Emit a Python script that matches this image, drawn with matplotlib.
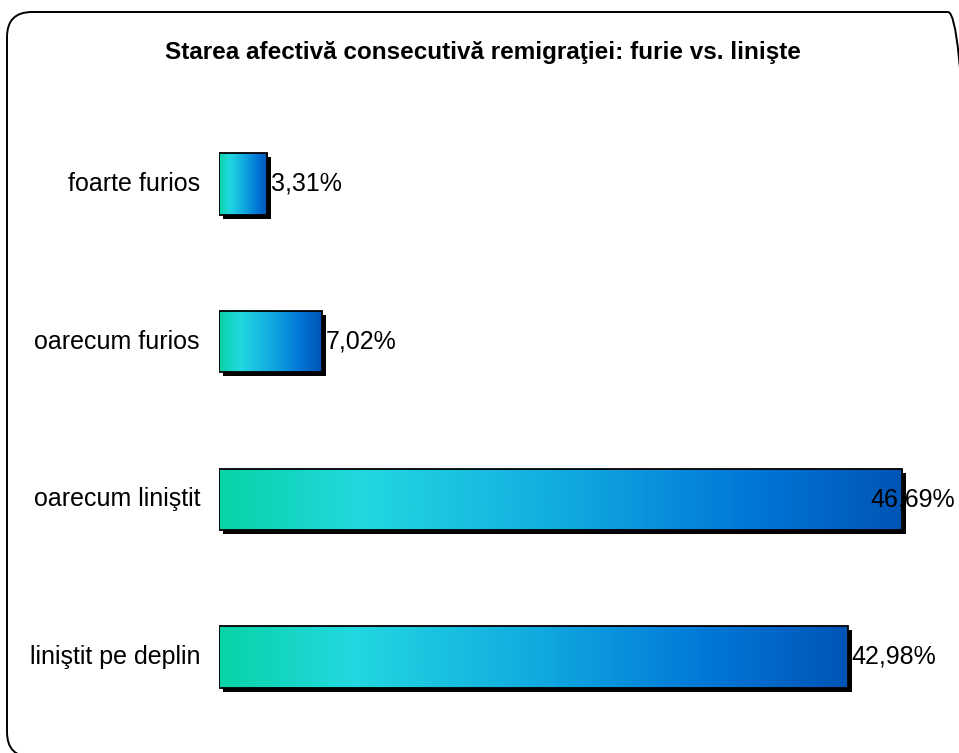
import numpy as np
import matplotlib
matplotlib.use("Agg")
import matplotlib.pyplot as plt
from matplotlib.colors import LinearSegmentedColormap
from matplotlib.patches import FancyBboxPatch
from matplotlib.transforms import ScaledTranslation

plt.rcParams['font.family'] = ['Liberation Sans', 'DejaVu Sans']

title = "Starea afectivă consecutivă remigraţiei: furie vs. linişte"
categories = ["foarte furios", "oarecum furios", "oarecum liniştit", "liniştit pe deplin"]
values = [3.31, 7.02, 46.69, 42.98]
value_labels = ["3,31%", "7,02%", "46,69%", "42,98%"]

W, H, DPI = 959, 753, 100
fig = plt.figure(figsize=(W / DPI, H / DPI), dpi=DPI)

# rounded frame in inches (extends slightly past right/bottom edge like the reference)
frame = FancyBboxPatch((7 / DPI, (H - 757) / DPI), 966 / DPI, 745 / DPI,
                       boxstyle="round,pad=0,rounding_size=0.25",
                       transform=fig.dpi_scale_trans, fill=False,
                       edgecolor="black", linewidth=1.4)
fig.patches.append(frame)

fig.text(483 / W, 1 - 52 / H, title, ha="center", va="center",
         fontsize=17.5, fontweight="bold")

ax = fig.add_axes([219 / W, 17.2 / H, 731.5 / W, 630.7 / H])
ax.set_xlim(0, 50)
ax.set_ylim(-0.5, 3.5)
ax.axis("off")

ypos = np.arange(len(categories))[::-1]
bh = 0.39

cmap = LinearSegmentedColormap.from_list(
    "grad", [(0.0, "#08D3A6"), (0.21, "#22D8E0"), (0.5, "#12ABE0"),
             (0.78, "#0077D8"), (1.0, "#0055B5")])
grad = np.linspace(0, 1, 256).reshape(1, -1)

# shadows
shadow_tr = ax.transData + ScaledTranslation(4 / DPI, -4 / DPI, fig.dpi_scale_trans)
shadows = ax.barh(ypos, values, height=bh, color="black", zorder=1)
for s in shadows:
    s.set_transform(shadow_tr)

bars = ax.barh(ypos, values, height=bh, facecolor="none", edgecolor="black",
               linewidth=1.3, zorder=3)
for b in bars:
    x0, y0 = b.get_x(), b.get_y()
    w, h = b.get_width(), b.get_height()
    im = ax.imshow(grad, cmap=cmap, aspect="auto", extent=(x0, x0 + w, y0, y0 + h),
                   zorder=2, interpolation="bilinear")
    im.set_clip_path(b)

ax.set_xlim(0, 50)
ax.set_ylim(-0.5, 3.5)

label_max = 44.25
lab_tr = ax.transData + ScaledTranslation(4 / DPI, 0, fig.dpi_scale_trans)
for y, v, lab in zip(ypos, values, value_labels):
    ax.text(min(v, label_max), y, lab, ha="left", va="center", fontsize=18,
            transform=lab_tr, zorder=4, clip_on=False)

cat_tr = ax.transData + ScaledTranslation(-19 / DPI, 0, fig.dpi_scale_trans)
for y, c in zip(ypos, categories):
    ax.text(0, y, c, ha="right", va="center", fontsize=18, transform=cat_tr)

fig.savefig("out.png", dpi=DPI)
